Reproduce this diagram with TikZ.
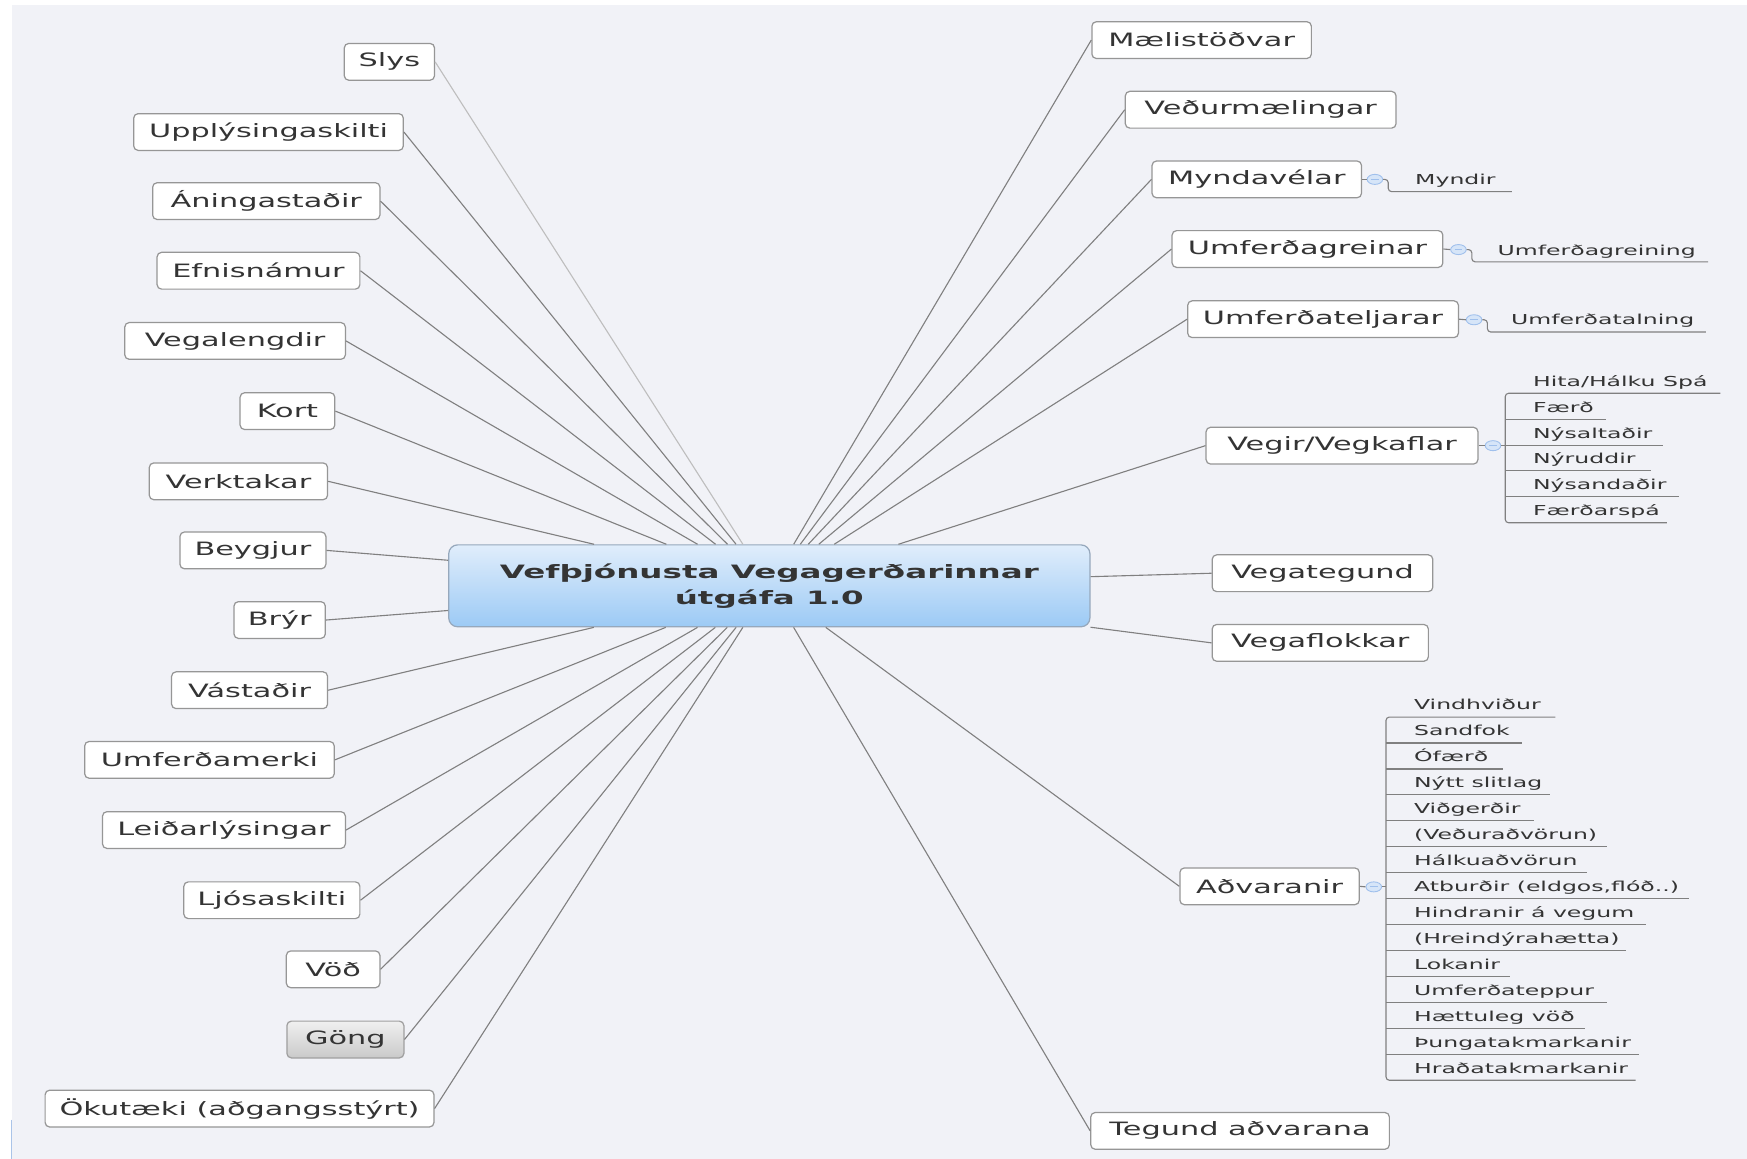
\documentclass[tikz,border=0pt]{standalone}
\usepackage{fontspec}
\usetikzlibrary{shapes.geometric}
\newfontfamily\mainfnt[FakeStretch=1.65]{DejaVu Sans}
\newfontfamily\childfnt[FakeStretch=1.72]{DejaVu Sans}
\newfontfamily\titlefnt[FakeStretch=1.77]{DejaVu Sans}
\definecolor{bg}{RGB}{241,242,247}
\definecolor{boxline}{RGB}{150,150,150}
\definecolor{txt}{RGB}{52,52,52}
\definecolor{connc}{RGB}{128,128,128}
\definecolor{connlight}{RGB}{190,190,190}
\definecolor{ctop}{RGB}{224,237,251}
\definecolor{cbot}{RGB}{156,202,245}
\definecolor{cborder}{RGB}{150,168,188}
\definecolor{circfill}{RGB}{214,229,248}
\definecolor{circline}{RGB}{160,192,236}
\definecolor{edgeblue}{RGB}{170,196,232}
\begin{document}
\begin{tikzpicture}[x=1pt,y=-1pt,
  leaf/.style={draw=boxline, fill=white, rounded corners=4, line width=1.1pt,
    minimum height=33, inner sep=0pt, text=txt,
    font=\mainfnt\fontsize{16.5}{20}\selectfont},
  hubstyle/.style={draw=cborder, top color=ctop, bottom color=cbot, rounded corners=8,
    line width=1.1pt, minimum width=575.5, minimum height=73.5, inner sep=0pt,
    align=center, text=txt, font=\titlefnt\bfseries\fontsize{16.5}{23}\selectfont},
  conn/.style={draw=connc, line width=1pt},
  childtxt/.style={anchor=base west, inner sep=0pt, text=txt,
    font=\childfnt\fontsize{12.3}{15}\selectfont},
  childln/.style={draw=connc, line width=1pt, rounded corners=3},
  collapse/.style={ellipse, draw=circline, fill=circfill, line width=0.8pt,
    minimum width=14, minimum height=9, inner sep=0pt},
  minus/.style={draw=circline, line width=0.9pt}
]
\useasboundingbox (0,0) rectangle (1568,1040);
\fill[white] (0,0) rectangle (1568,1040);
\fill[bg] (10.5,4.5) rectangle (1568,1040);
\draw[edgeblue, line width=1pt] (10,1005) -- (10,1040);

% hub
\node[hubstyle] (hub) at (690.5,525.8) {Vefþjónusta Vegagerðarinnar\\útgáfa 1.0};

% left nodes
\node[leaf, minimum width=81] (slys) at (349.5,55.5) {Slys};
\node[leaf, minimum width=242] (uppl) at (241,118.5) {Upplýsingaskilti};
\node[leaf, minimum width=204] (aning) at (239,180.5) {Áningastaðir};
\node[leaf, minimum width=182] (efnis) at (232,243) {Efnisnámur};
\node[leaf, minimum width=198] (vegal) at (211,306) {Vegalengdir};
\node[leaf, minimum width=85] (kort) at (258,369) {Kort};
\node[leaf, minimum width=160] (verkt) at (214,432) {Verktakar};
\node[leaf, minimum width=131] (beyg) at (227,494) {Beygjur};
\node[leaf, minimum width=82] (bryr) at (251,556.5) {Brýr};
\node[leaf, minimum width=140] (vast) at (224,619.5) {Vástaðir};
\node[leaf, minimum width=224] (umfm) at (188,682) {Umferðamerki};
\node[leaf, minimum width=218] (leid) at (201,745) {Leiðarlýsingar};
\node[leaf, minimum width=158] (ljos) at (244,808) {Ljósaskilti};
\node[leaf, minimum width=84] (vod) at (299,870) {Vöð};
\node[leaf, minimum width=105, top color=gray!12, bottom color=gray!42, draw=gray!75] (gong) at (310,933) {Göng};
\node[leaf, minimum width=349] (okut) at (215,995) {Ökutæki (aðgangsstýrt)};

% right nodes
\node[leaf, minimum width=197] (mael) at (1078.5,36) {Mælistöðvar};
\node[leaf, minimum width=243] (vedur) at (1131.5,98.5) {Veðurmælingar};
\node[leaf, minimum width=188] (mynd) at (1128,161) {Myndavélar};
\node[leaf, minimum width=243] (umfg) at (1173.5,223.5) {Umferðagreinar};
\node[leaf, minimum width=243] (umft) at (1187.5,286.5) {Umferðateljarar};
\node[leaf, minimum width=244] (vegir) at (1204.5,400) {Vegir/Vegkaflar};
\node[leaf, minimum width=198] (vegt) at (1187,514.5) {Vegategund};
\node[leaf, minimum width=194] (vegf) at (1185,577) {Vegaflokkar};
\node[leaf, minimum width=161] (advar) at (1139.5,795.5) {Aðvaranir};
\node[leaf, minimum width=268] (tegund) at (1113,1015) {Tegund aðvarana};

% connectors left
\draw[draw=connlight, line width=1pt] (slys.east) -- (hub);
\foreach \n in {uppl,aning,efnis,vegal,kort,verkt,beyg,bryr,vast,umfm,leid,ljos,vod,gong,okut}
  \draw[conn] (\n.east) -- (hub);
% connectors right
\foreach \n in {mael,vedur,mynd,umfg,umft,vegir,vegt,vegf,advar,tegund}
  \draw[conn] (\n.west) -- (hub);

% Myndavélar -> Myndir
\node[collapse] (cmy) at (1234,161) {};
\draw[conn] (mynd.east) -- (cmy.west);
\draw[childln] (cmy.east) -- (1246,161) -- (1246,172) -- (1357,172);
\draw[minus] (cmy.center) ++(-3.5,0) -- ++(7,0);
\node[childtxt] (myndir) at (1270,165.7) {Myndir};

% Umferðagreinar -> Umferðagreining
\node[collapse] (cug) at (1309,224) {};
\draw[conn] (umfg.east) -- (cug.west);
\draw[childln] (cug.east) -- (1321,224) -- (1321,235) -- (1533,235);
\draw[minus] (cug.center) ++(-3.5,0) -- ++(7,0);
\node[childtxt] (umfgr) at (1344,229) {Umferðagreining};

% Umferðateljarar -> Umferðatalning
\node[collapse] (cut) at (1323,287) {};
\draw[conn] (umft.east) -- (cut.west);
\draw[childln] (cut.east) -- (1335,287) -- (1335,298) -- (1531,298);
\draw[minus] (cut.center) ++(-3.5,0) -- ++(7,0);
\node[childtxt] (umftal) at (1356,291.5) {Umferðatalning};

% Vegir/Vegkaflar children
\node[collapse] (cv) at (1340,400) {};
\draw[conn] (vegir.east) -- (cv.west);
\draw[conn] (cv.east) -- (1351,400);
\draw[minus] (cv.center) ++(-3.5,0) -- ++(7,0);
\draw[childln] (1544,353) -- (1351,353) -- (1351,469.2) -- (1496,469.2);
\draw[conn] (1351,376.4) -- (1441.6,376.4);
\draw[conn] (1351,399.7) -- (1492.5,399.7);
\draw[conn] (1351,422.5) -- (1481.7,422.5);
\draw[conn] (1351,445.8) -- (1506.6,445.8);
\node[childtxt] (v1) at (1375.8,346.5) {Hita/Hálku Spá};
\node[childtxt] (v2) at (1375.8,370.2) {Færð};
\node[childtxt] (v3) at (1375.8,393.5) {Nýsaltaðir};
\node[childtxt] (v4) at (1375.8,416.3) {Nýruddir};
\node[childtxt] (v5) at (1375.8,439.6) {Nýsandaðir};
\node[childtxt] (v6) at (1375.8,463) {Færðarspá};

% Aðvaranir children
\node[collapse] (ca) at (1233,796) {};
\draw[conn] (advar.east) -- (ca.west);
\draw[conn] (ca.east) -- (1244,796);
\draw[minus] (ca.center) ++(-3.5,0) -- ++(7,0);
\draw[childln] (1396,643.6) -- (1244,643.6) -- (1244,969.6) -- (1468,969.6);
\foreach \i/\t/\e in {0/Vindhviður/1396, 1/Sandfok/1366, 2/Ófærð/1349,
  3/Nýtt slitlag/1391, 4/Viðgerðir/1377, 5/(Veðuraðvörun)/1442,
  6/Hálkuaðvörun/1424, 7/{Atburðir (eldgos,flóð..)}/1516, 8/Hindranir á vegum/1477,
  9/(Hreindýrahætta)/1459, 10/Lokanir/1355, 11/Umferðateppur/1442,
  12/Hættuleg vöð/1423, 13/Þungatakmarkanir/1471, 14/Hraðatakmarkanir/1468}{
  \ifnum\i>0 \ifnum\i<14 \draw[conn] (1244,{643.6+23.29*\i}) -- (\e,{643.6+23.29*\i}); \fi\fi
  \node[childtxt] (a\i) at (1269,{643.6+23.29*\i-6.5}) {\t};
}
\end{tikzpicture}
\end{document}
